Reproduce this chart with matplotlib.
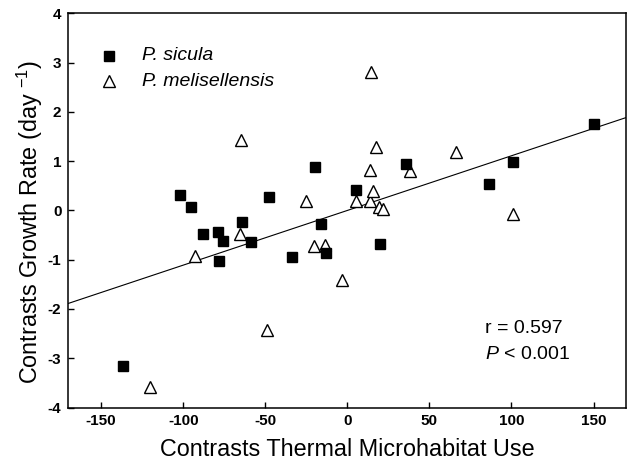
import numpy as np
import matplotlib
matplotlib.use('Agg')
import matplotlib.pyplot as plt

plt.rcParams['font.family'] = ['Liberation Sans', 'DejaVu Sans']
plt.rcParams['mathtext.fontset'] = 'custom'
plt.rcParams['mathtext.rm'] = 'Liberation Sans'
plt.rcParams['mathtext.it'] = 'Liberation Sans:italic'
plt.rcParams['axes.unicode_minus'] = False

# P. sicula (cuadrados llenos)
sicula_x = [-137, -102, -95, -88, -79, -76, -78, -64, -59, -48,
            -34, -20, -16, -13, 5, 20, 36, 86, 101, 150]
sicula_y = [-3.15, 0.31, 0.08, -0.48, -0.44, -0.61, -1.02, -0.23, -0.64, 0.28,
            -0.95, 0.89, -0.27, -0.87, 0.41, -0.68, 0.94, 0.53, 0.98, 1.76]

# P. melisellensis (triangulos vacios)
melis_x = [-120, -93, -65.5, -64.5, -49, -25, -20.5, -13.5, -3, 5,
           13.5, 14, 14.5, 15.5, 17.5, 19.5, 21.5, 38, 66, 101]
melis_y = [-3.58, -0.92, -0.48, 1.43, -2.43, 0.20, -0.72, -0.70, -1.42, 0.19,
           0.20, 0.82, 2.81, 0.40, 1.29, 0.07, 0.02, 0.81, 1.19, -0.08]

# regresion por el origen
slope = 0.0111
intercept = 0.0

x_ticks = [-150, -100, -50, 0, 50, 100, 150]
y_ticks = [-4, -3, -2, -1, 0, 1, 2, 3, 4]

fig = plt.figure(figsize=(6.27, 4.61), dpi=100)
ax = fig.add_axes([0.109, 0.116, 0.890, 0.855])

xl = np.array([-170, 170])
ax.plot(xl, slope * xl + intercept, color='black', lw=0.8, zorder=1)

ax.plot(sicula_x, sicula_y, 's', color='black', markersize=7.2,
        linestyle='none', zorder=3)
ax.plot(melis_x, melis_y, '^', markerfacecolor='white', markeredgecolor='black',
        markeredgewidth=1.0, markersize=9, linestyle='none', zorder=2)

ax.set_xlim(-170, 170)
ax.set_ylim(-4, 4)
ax.set_xticks(x_ticks)
ax.set_yticks(y_ticks)
ax.tick_params(direction='in', length=4, width=1, labelsize=11, pad=5)
for lab in ax.get_xticklabels() + ax.get_yticklabels():
    lab.set_fontweight('bold')
for s in ax.spines.values():
    s.set_linewidth(1.1)

ax.set_xlabel('Contrasts Thermal Microhabitat Use', fontsize=16.8, labelpad=7)
ax.set_ylabel('Contrasts Growth Rate (day $^{-1}$)', fontsize=16.8)
ax.yaxis.set_label_coords(-0.042, 0.47)

# leyenda
ax.plot([-145], [3.14], 's', color='black', markersize=7.2)
ax.text(-125, 3.14, 'P. sicula', style='italic', fontsize=14, va='center')
ax.plot([-145], [2.62], '^', markerfacecolor='white', markeredgecolor='black',
        markeredgewidth=1.0, markersize=9)
ax.text(-125, 2.62, 'P. melisellensis', style='italic', fontsize=14, va='center')

ax.text(84, -2.39, 'r = 0.597', fontsize=14, va='center')
ax.text(84, -2.93, '$P$ < 0.001', fontsize=14, va='center')

fig.savefig('out.png', dpi=100)
